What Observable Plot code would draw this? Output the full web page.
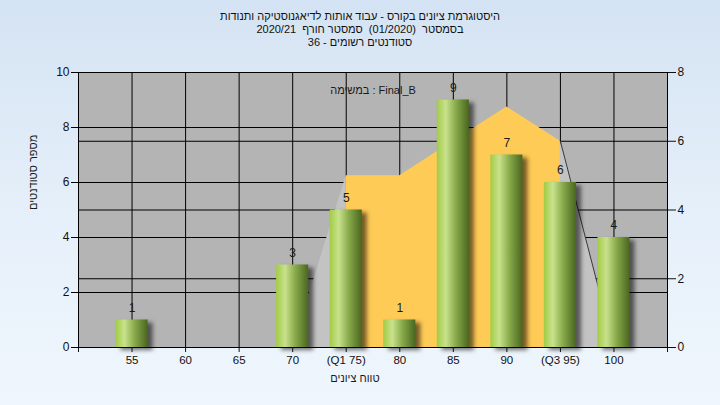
<!DOCTYPE html>
<html>
<head>
<meta charset="utf-8">
<script src="https://cdn.jsdelivr.net/npm/d3@7"></script>
<script src="https://cdn.jsdelivr.net/npm/@observablehq/plot@0.6"></script>
<style>
  html, body { margin: 0; padding: 0; }
  #wrap {
    width: 720px; height: 405px; overflow: hidden;
    background: linear-gradient(to bottom, #d4e3f3 0%, #e6f0fa 55%, #eff6fd 100%);
    font-family: "Liberation Sans", Arial, sans-serif;
  }
  #title {
    height: 50px; box-sizing: border-box; padding-top: 10px;
    text-align: center; direction: rtl; font-size: 11px; line-height: 13px; color: #111;
  }
  #title div { white-space: pre; }
</style>
</head>
<body>
<div id="wrap">
  <div id="title">
    <div>היסטוגרמת ציונים בקורס - עבוד אותות לדיאגנוסטיקה ותנודות</div>
    <div>בסמסטר  (01/2020)  סמסטר חורף  2020/21</div>
    <div>סטודנטים רשומים - 36</div>
  </div>
  <div id="chart"></div>
</div>
<script>
// ---- data ----
const categories = [55, 60, 65, 70, 75, 80, 85, 90, 95, 100];
const tickLabels = ["55", "60", "65", "70", "(Q1 75)", "80", "85", "90", "(Q3 95)", "100"];
const counts = [1, 0, 0, 3, 5, 1, 9, 7, 6, 4];
const curveX = [70, 75, 80, 85, 90, 95, 100];
const curveY = [0, 5, 5, 6, 7, 6, 0];           // right-axis units
const q1 = 75, q3 = 95;
const leftTicks = [0, 2, 4, 6, 8, 10];
const rightTicks = [0, 2, 4, 6, 8];
const leftMax = 10, rightMax = 8;
const noteLabel = "במשימה : Final_B";
const xTitle = "טווח ציונים";
const yTitle = "מספר סטודנטים";

// ---- derived tables ----
const k = leftMax / rightMax;
const bars = categories.map((c, i) => ({x: c, n: counts[i]}));
const curve = curveX.map((x, i) => ({x, y: curveY[i] * k}));
const inner = curve.filter(d => d.x >= q1 && d.x <= q3);
const outer = [
  ...curve.filter(d => d.x <= q1 && d.x >= q1 - 5).map(d => ({...d, z: "a"})),
  ...curve.filter(d => d.x >= q3 && d.x <= q3 + 5).map(d => ({...d, z: "b"}))
];
const rightTail = curve.filter(d => d.x >= q3 && d.x <= q3 + 5);
const labelMap = new Map(categories.map((c, i) => [c, tickLabels[i]]));
const xMin = categories[0] - 5, xMax = categories[categories.length - 1] + 5;
const xTickAll = d3.range(xMin, xMax + 1, 5);
const hGrid = Array.from(new Set([...leftTicks, ...rightTicks.map(v => v * k)]));

const plot = Plot.plot({
  width: 720,
  height: 355,
  marginLeft: 78,
  marginRight: 53,
  marginTop: 22,
  marginBottom: 58,
  style: {background: "transparent", fontFamily: "Liberation Sans, Arial, sans-serif", fontSize: "11.5px", color: "#111"},
  x: {type: "linear", domain: [xMin, xMax], axis: null},
  y: {domain: [0, leftMax], axis: null},
  marks: [
    Plot.frame({fill: "#b4b4b4", stroke: null}),
    Plot.ruleY(hGrid, {stroke: "#000", strokeWidth: 1}),
    Plot.ruleX(categories, {stroke: "#000", strokeWidth: 1}),
    Plot.areaY(outer, {x: "x", y: "y", z: "z", fill: "#c3c3c3", curve: "linear"}),
    Plot.areaY(inner, {x: "x", y: "y", fill: "#ffcb57", curve: "linear"}),
    Plot.lineY(rightTail, {x: "x", y: "y", stroke: "#3a3a3a", strokeWidth: 1}),
    Plot.rectY(bars.filter(d => d.n > 0), {x1: d => d.x - 1.5, x2: d => d.x + 1.5, y1: 0, y2: "n", fill: "url(#barGrad)"}),
    Plot.text(bars.filter(d => d.n > 0), {x: "x", y: "n", text: d => String(d.n), dy: -12, fill: "#1a1a1a", fontSize: 12}),
    Plot.text([noteLabel], {frameAnchor: "top", dy: 14, fill: "#1a1a1a", fontSize: 11}),
    Plot.ruleY([0], {stroke: "#000"}),
    Plot.axisY(leftTicks, {anchor: "left", tickSize: 7, tickPadding: 2, stroke: "#000", label: null, fontSize: 12}),
    Plot.axisY(rightTicks.map(v => v * k), {anchor: "right", tickSize: 8, tickPadding: 2, tickFormat: d => String(Math.round(d / k)), label: null, fontSize: 12}),
    Plot.ruleX([xMin, xMax], {y1: 0, y2: leftMax, stroke: "#000"}),
    Plot.axisX(xTickAll, {anchor: "bottom", tickSize: 5, tickPadding: 3, tickFormat: d => labelMap.get(d) ?? "", label: null, fontSize: 11.5}),
    Plot.text([xTitle], {frameAnchor: "bottom", dy: 34, dx: -18, fill: "#1a1a1a", fontSize: 11}),
    Plot.text([yTitle], {frameAnchor: "left", dx: -45, rotate: -90, fill: "#1a1a1a", fontSize: 11})
  ]
});

// gradient and shadow for cylinder-like bars
const ns = "http://www.w3.org/2000/svg";
const defs = document.createElementNS(ns, "defs");
defs.innerHTML = `
  <linearGradient id="barGrad" x1="0" x2="1" y1="0" y2="0">
    <stop offset="0" stop-color="#a2cb45"/>
    <stop offset="0.28" stop-color="#c8e28c"/>
    <stop offset="0.6" stop-color="#87a94a"/>
    <stop offset="1" stop-color="#4a661f"/>
  </linearGradient>`;
plot.insertBefore(defs, plot.firstChild);
const rectG = plot.querySelector('g[aria-label="rect"]');
if (rectG) rectG.style.filter = "drop-shadow(5px 3px 2px rgba(0,0,0,0.55))";
plot.style.display = "block";
document.getElementById("chart").appendChild(plot);
</script>
</body>
</html>
